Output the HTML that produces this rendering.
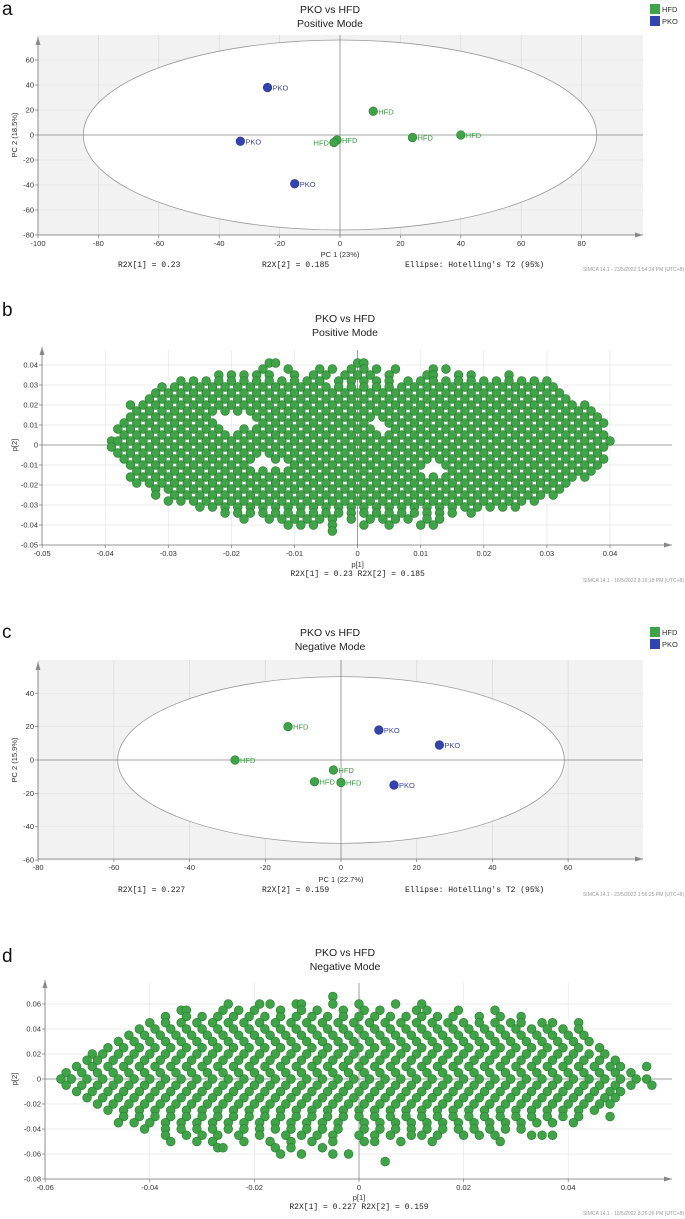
<!DOCTYPE html>
<html><head><meta charset="utf-8"><style>
html,body{margin:0;padding:0;background:#fff;}
svg{display:block;font-family:"Liberation Sans",sans-serif;}
.tk{font-size:7.5px;fill:#333;}
.mono{font-family:"Liberation Mono",monospace;font-size:8px;fill:#222;}
.ttl{font-size:10.5px;fill:#222;text-anchor:middle;}
.panel{font-size:19px;fill:#111;}
.simca{font-size:5px;fill:#999;text-anchor:end;}
</style></head><body>
<svg id="fig" width="685" height="1219" viewBox="0 0 685 1219"></svg>
<script>
// ---- Panel a data (scores, positive mode) ----
const aCats = ["HFD","PKO"];
const aPC1 = [11,24,40,-1,-2,-24,-33,-15];
const aPC2 = [19,-2,0,-4,-6,38,-5,-39];
const aGroup = ["HFD","HFD","HFD","HFD","HFD","PKO","PKO","PKO"];
const aXTicks = [-100,-80,-60,-40,-20,0,20,40,60,80];
const aYTicks = [-80,-60,-40,-20,0,20,40,60];
// ---- Panel c data (scores, negative mode) ----
const cPC1 = [-14,-28,-2,-7,0,10,26,14];
const cPC2 = [20,0,-6,-13,-13.5,18,9,-15];
const cGroup = ["HFD","HFD","HFD","HFD","HFD","PKO","PKO","PKO"];
const cXTicks = [-80,-60,-40,-20,0,20,40,60];
const cYTicks = [-60,-40,-20,0,20,40];
// ---- Panel b loadings (rows: p2 in 0.001 units, list of p1 in 0.001 units) ----
const bXTicks = [-0.05,-0.04,-0.03,-0.02,-0.01,0,0.01,0.02,0.03,0.04];
const bYTicks = [-0.05,-0.04,-0.03,-0.02,-0.01,0,0.01,0.02,0.03,0.04];
const bLoadings = [
[41,[-14,-13,0,1]],
[38,[-15,-11,-6,-4,-1,1,3,6,12,14]],
[35,[-22,-20,-18,-16,-14,-10,-7,-5,-2,0,2,5,11,12,16,18,24]],
[32,[-28,-26,-24,-22,-20,-18,-16,-14,-12,-10,-8,-6,-3,-1,1,3,5,8,10,12,14,16,18,20,22,24,26,28,30]],
[29,[-31,-29,-27,-25,-23,-21,-19,-17,-15,-13,-11,-9,-7,-5,-3,-1,1,3,5,7,9,11,13,15,17,19,21,23,25,27,29,31]],
[26,[-32,-30,-28,-26,-24,-22,-20,-18,-16,-14,-12,-10,-8,-6,-4,-2,0,2,4,6,8,10,12,14,16,18,20,22,24,26,28,30,32]],
[23,[-33,-31,-29,-27,-25,-23,-21,-19,-17,-15,-13,-11,-9,-7,-5,-3,-1,1,3,5,7,9,11,13,15,17,19,21,23,25,27,29,31,33]],
[20,[-36,-34,-32,-30,-28,-26,-24,-22,-20,-18,-16,-14,-12,-10,-8,-6,-4,-2,0,2,4,6,8,10,12,14,16,18,20,22,24,26,28,30,32,34,36]],
[17,[-35,-33,-31,-29,-27,-25,-23,-21,-19,-17,-15,-13,-11,-9,-7,-5,-3,-1,1,3,5,7,9,11,13,15,17,19,21,23,25,27,29,31,33,35,37]],
[14,[-36,-34,-32,-30,-28,-26,-24,-16,-14,-12,-10,-8,-6,-4,-2,0,2,4,6,8,10,12,14,16,18,20,22,24,26,28,30,32,34,36,38]],
[11,[-37,-35,-33,-31,-29,-27,-25,-23,-15,-13,-11,-9,-7,-5,-3,-1,1,5,7,9,11,13,15,17,19,21,23,25,27,29,31,33,35,37,39]],
[8,[-38,-36,-34,-32,-30,-28,-26,-24,-22,-18,-16,-14,-12,-10,-8,-6,-4,-2,0,2,6,8,10,12,14,16,18,20,22,24,26,28,30,32,34,36,38]],
[5,[-37,-35,-33,-31,-29,-27,-25,-23,-21,-19,-17,-15,-13,-11,-9,-7,-5,-3,-1,1,3,5,7,9,11,13,15,17,19,21,23,25,27,29,31,33,35,37,39]],
[2,[-39,-38,-36,-34,-32,-30,-28,-26,-24,-22,-20,-18,-16,-14,-12,-10,-8,-6,-4,-2,0,2,4,6,8,10,12,14,16,18,20,22,24,26,28,30,32,34,36,38,40]],
[-1,[-39,-37,-35,-33,-31,-29,-27,-25,-23,-21,-19,-17,-15,-13,-11,-9,-7,-5,-3,-1,1,3,5,7,9,11,13,15,17,19,21,23,25,27,29,31,33,35,37,39]],
[-4,[-38,-36,-34,-32,-30,-28,-26,-24,-22,-20,-18,-16,-14,-12,-10,-8,-6,-4,-2,0,2,4,6,8,10,12,14,16,18,20,22,24,26,28,30,32,34,36,38]],
[-7,[-37,-35,-33,-31,-29,-27,-25,-23,-21,-19,-17,-13,-11,-9,-7,-5,-3,-1,1,3,5,7,9,11,13,15,17,19,21,23,25,27,29,31,33,35,37,39]],
[-10,[-36,-34,-32,-30,-28,-26,-24,-22,-20,-18,-10,-8,-6,-4,-2,0,2,4,6,8,10,14,16,18,20,22,24,26,28,30,32,34,36,38]],
[-13,[-35,-33,-31,-29,-27,-25,-23,-21,-19,-17,-15,-13,-11,-9,-7,-5,-3,-1,1,3,5,7,9,15,17,19,21,23,25,27,29,31,33,35,37]],
[-16,[-36,-34,-32,-30,-28,-26,-24,-22,-20,-18,-16,-14,-12,-10,-8,-6,-4,-2,0,2,4,6,8,10,12,14,16,18,20,22,24,26,28,30,32,34,36]],
[-19,[-35,-33,-31,-29,-27,-25,-23,-21,-19,-17,-15,-13,-11,-9,-7,-5,-3,-1,1,3,5,7,9,11,13,15,17,19,21,23,25,27,29,31,33]],
[-22,[-32,-30,-28,-26,-24,-22,-20,-18,-16,-14,-12,-10,-8,-6,-4,-2,0,2,4,6,8,10,12,14,16,18,20,22,24,26,28,30,32]],
[-25,[-32,-29,-27,-25,-23,-21,-19,-17,-15,-13,-11,-9,-7,-5,-3,-1,1,3,5,7,9,11,13,15,17,19,21,23,25,27,29,31]],
[-28,[-30,-28,-26,-24,-22,-20,-18,-16,-14,-12,-10,-8,-6,-4,-2,0,2,4,6,8,10,12,14,16,18,20,22,24,26,28]],
[-31,[-25,-23,-21,-19,-17,-15,-13,-11,-9,-7,-5,-3,-1,1,3,5,7,9,11,13,15,17,19,21,23,25]],
[-34,[-21,-19,-17,-15,-13,-11,-9,-7,-5,-3,-1,1,3,5,7,9,11,13,15,18]],
[-37,[-18,-14,-12,-10,-8,-6,-4,-1,2,4,6,8,11,13]],
[-40,[-11,-9,-7,-4,1,5,10,12]],
[-43,[-4]]
];
// ---- Panel d loadings ----
const dXTicks = [-0.06,-0.04,-0.02,0,0.02,0.04];
const dYTicks = [-0.08,-0.06,-0.04,-0.02,0,0.02,0.04,0.06];
const dLoadings = [
[66,[-5]],
[60,[-25,-19,-17,-12,-11,-5,0,7,12]],
[55,[-34,-33,-26,-23,-20,-15,-11,-8,-3,1,4,11,13,19,26]],
[50,[-37,-33,-30,-27,-24,-21,-18,-15,-12,-9,-6,-3,0,3,6,9,12,15,18,23,27,31]],
[45,[-40,-37,-34,-31,-28,-25,-22,-19,-16,-13,-10,-7,-4,-1,2,5,8,11,14,17,20,23,26,29,31,35,37,42]],
[40,[-42,-39,-36,-33,-30,-27,-24,-21,-18,-15,-12,-9,-6,-3,0,3,6,9,12,15,18,21,24,27,30,33,36,39,42]],
[35,[-44,-41,-38,-35,-32,-29,-26,-23,-20,-17,-14,-11,-8,-5,-2,1,4,7,10,13,16,19,22,25,28,31,34,37,40,43]],
[30,[-46,-43,-40,-37,-34,-31,-28,-25,-22,-19,-16,-13,-10,-7,-4,-1,2,5,8,11,14,17,20,23,26,29,32,35,38,41,44]],
[25,[-48,-45,-42,-39,-36,-33,-30,-27,-24,-21,-18,-15,-12,-9,-6,-3,0,3,6,9,12,15,18,21,24,27,30,33,36,39,42,46]],
[20,[-51,-49,-46,-43,-40,-37,-34,-31,-28,-25,-22,-19,-16,-13,-10,-7,-4,-1,2,5,8,11,14,17,20,23,26,29,32,35,38,41,44,47]],
[15,[-52,-50,-47,-44,-41,-38,-35,-32,-29,-26,-23,-20,-17,-14,-11,-8,-5,-2,1,4,7,10,13,16,19,22,25,28,31,34,37,40,43,46,49]],
[10,[-54,-51,-48,-45,-42,-39,-36,-33,-30,-27,-24,-21,-18,-15,-12,-9,-6,-3,0,3,6,9,12,15,18,21,24,27,30,33,36,39,42,45,48,50,55]],
[5,[-56,-53,-50,-47,-44,-41,-38,-35,-32,-29,-26,-23,-20,-17,-14,-11,-8,-5,-2,1,4,7,10,13,16,19,22,25,28,31,34,37,40,43,46,49,52]],
[0,[-57,-55,-52,-49,-46,-43,-40,-37,-34,-31,-28,-25,-22,-19,-16,-13,-10,-7,-4,-1,2,5,8,11,14,17,20,23,26,29,32,35,38,41,44,47,50,53,55]],
[-5,[-56,-53,-50,-47,-44,-41,-38,-35,-32,-29,-26,-23,-20,-17,-14,-11,-8,-5,-2,1,4,7,10,13,16,19,22,25,28,31,34,37,40,43,46,49,52,56]],
[-10,[-54,-51,-48,-45,-42,-39,-36,-33,-30,-27,-24,-21,-18,-15,-12,-9,-6,-3,0,3,6,9,12,15,18,21,24,27,30,33,36,39,42,45,48,50]],
[-15,[-52,-49,-46,-43,-40,-37,-34,-31,-28,-25,-22,-19,-16,-13,-10,-7,-4,-1,2,5,8,11,14,17,20,23,26,29,32,35,38,41,44,47,49]],
[-20,[-50,-47,-44,-41,-38,-35,-32,-29,-26,-23,-20,-17,-14,-11,-8,-5,-2,1,4,7,10,13,16,19,22,25,28,31,34,37,40,43,46,48]],
[-25,[-48,-45,-42,-39,-36,-33,-30,-27,-24,-21,-18,-15,-12,-9,-6,-3,0,3,6,9,12,15,18,21,24,27,30,33,36,39,42,45]],
[-30,[-45,-42,-39,-36,-33,-30,-27,-24,-21,-18,-15,-12,-9,-6,-3,0,3,6,9,12,15,18,21,24,27,30,33,36,39,42,48]],
[-35,[-46,-43,-40,-37,-34,-31,-28,-25,-22,-19,-16,-13,-10,-7,-4,1,4,7,10,13,16,19,22,25,28,31,34,37,41]],
[-40,[-41,-37,-34,-31,-28,-25,-22,-19,-16,-13,-10,-7,-4,1,4,7,10,13,16,19,22,25,28,31]],
[-45,[-37,-33,-30,-27,-23,-19,-14,-11,-8,-5,0,3,6,10,12,15,20,23,26,33,35,37]],
[-50,[-36,-31,-28,-22,-17,-13,-9,-5,1,3,8,14,27]],
[-55,[-27,-26,-16,-13,-7]],
[-60,[-15,-11,-5,-2]],
[-66,[5]]
];

const NS="http://www.w3.org/2000/svg";
const svg=document.getElementById('fig');
function el(tag,attrs,parent,txt){const e=document.createElementNS(NS,tag);for(const k in attrs)e.setAttribute(k,attrs[k]);if(txt!==undefined)e.textContent=txt;(parent||svg).appendChild(e);return e;}
const GREEN="#3fa447",GREENS="#2b7a31",BLUE="#3343b0",BLUES="#27308a";

function fmt(v){if(v===0)return "0";let s=(Math.round(v*1000)/1000).toString();return s;}

function panel(o){
  const g=el('g',{});
  
  
  const X=v=>o.x0+v*o.kx, Y=v=>o.y0-v*o.ky;
  // letter + titles
  const L=el('text',{x:2,y:o.letterY,class:'panel'},g,o.letter);
  
  
  const t1=el('text',{x:o.titleX,y:o.titleY,class:'ttl'},g,'PKO vs HFD');
  
  
  const t2=el('text',{x:o.titleX,y:o.titleY+14,class:'ttl'},g,o.mode);
  
  
  // background
  if(o.ellipse){
    const bg=el('rect',{x:o.left,y:o.top,width:o.right-o.left,height:o.bottom-o.top,fill:'#f2f2f2'},g);
    
    
  }
  // grid
  o.xt.forEach(v=>{const l=el('line',{x1:X(v),x2:X(v),y1:o.top,y2:o.bottom,stroke:o.ellipse?'#d8d8d8':'#e6e6e6','stroke-width':0.7},g);});
  o.yt.forEach(v=>{const l=el('line',{x1:o.left,x2:o.right,y1:Y(v),y2:Y(v),stroke:o.ellipse?'#e4e4e4':'#e6e6e6','stroke-width':0.7},g);});
  if(o.ellipse){
    const e=el('ellipse',{cx:X(0),cy:Y(0),rx:o.ellipse[0]*o.kx,ry:o.ellipse[1]*o.ky,fill:'#fff',stroke:'#999','stroke-width':0.8},g);
    
    
  }
  // zero lines
  const zx=el('line',{x1:o.left,x2:o.right,y1:Y(0),y2:Y(0),stroke:'#888','stroke-width':0.8},g);
  
  
  const zy=el('line',{x1:X(0),x2:X(0),y1:o.top,y2:o.bottom,stroke:'#888','stroke-width':0.8},g);
  
  
  // axes
  const ax=el('line',{x1:o.left,x2:o.arrowX,y1:o.bottom,y2:o.bottom,stroke:'#777','stroke-width':0.8},g);
  
  
  const ay=el('line',{x1:o.left,x2:o.left,y1:o.bottom,y2:o.arrowY,stroke:'#777','stroke-width':0.8},g);
  
  
  const ha=el('path',{d:`M${o.arrowX},${o.bottom} l-8,-2.5 l0,5z`,fill:'#888'},g);
  
  
  const va=el('path',{d:`M${o.left},${o.arrowY} l-2.5,8 l5,0z`,fill:'#888'},g);
  
  
  o.xt.forEach(v=>{
    el('line',{x1:X(v),x2:X(v),y1:o.bottom,y2:o.bottom+3,stroke:'#777','stroke-width':0.7},g);
    const t=el('text',{x:X(v),y:o.bottom+11,class:'tk','text-anchor':'middle'},g,fmt(v));
    
    
  });
  o.yt.forEach(v=>{
    el('line',{x1:o.left-3,x2:o.left,y1:Y(v),y2:Y(v),stroke:'#777','stroke-width':0.7},g);
    const t=el('text',{x:o.left-4,y:Y(v)+2.5,class:'tk','text-anchor':'end'},g,fmt(v));
    
    
  });
  const yl=el('text',{x:0,y:0,class:'tk','text-anchor':'middle',transform:`translate(${o.ylabX},${Y(0)}) rotate(-90)`},g,o.ylab);
  
  
  const xl=el('text',{x:X(0),y:o.xlabY,class:'tk','text-anchor':'middle'},g,o.xlab);
  
  
  return {g,X,Y};
}

function scoresPanel(o,pc1,pc2,grp,labLeft){
  const {g,X,Y}=panel(o);
  for(let i=0;i<pc1.length;i++){
    const hf=grp[i]==="HFD";
    const c=el('circle',{cx:X(pc1[i]),cy:Y(pc2[i]),r:4.3,fill:hf?GREEN:BLUE,stroke:hf?GREENS:BLUES,'stroke-width':0.6},g);
    
    
    const left=labLeft.includes(i);
    const t=el('text',{x:X(pc1[i])+(left?-5:5),y:Y(pc2[i])+3,'font-size':7.5,fill:hf?'#3a9a44':'#3a45a8','text-anchor':left?'end':'start'},g,grp[i]);
    
    
  }
  // R2X row
  const r1=el('text',{x:118,y:o.r2Y,class:'mono'},g,o.r2[0]);
  
  
  const r2=el('text',{x:262,y:o.r2Y,class:'mono'},g,o.r2[1]);
  
  
  const r3=el('text',{x:405,y:o.r2Y,class:'mono'},g,"Ellipse: Hotelling's T2 (95%)");
  
  
  const s=el('text',{x:684,y:o.r2Y+4,class:'simca'},g,o.simca);
  
  
  // legend
  aCats.forEach((c,i)=>{
    const r=el('rect',{x:650,y:o.legY+i*12,width:10,height:10,fill:c==="HFD"?GREEN:BLUE},g);
    
    
    const t=el('text',{x:662,y:o.legY+i*12+8,'font-size':7.5,fill:'#333'},g,c);
    
    
  });
}

function loadPanel(o,rows){
  const {g,X,Y}=panel(o);
  rows.forEach(([yy,xs])=>xs.forEach(xx=>{
    const c=el('circle',{cx:X(xx/1000),cy:Y(yy/1000),r:4.4,fill:GREEN,stroke:GREENS,'stroke-width':0.6},g);
    
    
  }));
  const r=el('text',{x:X(0),y:o.r2Y,class:'mono','text-anchor':'middle'},g,o.r2);
  
  
  const s=el('text',{x:684,y:o.r2Y+6,class:'simca'},g,o.simca);
  
  
}

scoresPanel({name:'panel-a-scores',letter:'a',letterY:15,titleX:330,titleY:13,mode:'Positive Mode',
  x0:340,kx:3.02,y0:135,ky:1.25,left:38,right:643,top:35,bottom:235,arrowX:643,arrowY:37,
  xt:aXTicks,yt:aYTicks,ylab:'PC 2 (18.5%)',ylabX:17,xlab:'PC 1 (23%)',xlabY:257,ellipse:[85,76],
  r2Y:267,r2:['R2X[1] = 0.23','R2X[2] = 0.185'],simca:'SIMCA 14.1 - 23/5/2022 1:54:24 PM (UTC+8)',legY:4},
  aPC1,aPC2,aGroup,[4]);

loadPanel({name:'panel-b-loadings',letter:'b',letterY:316,titleX:345,titleY:322,mode:'Positive Mode',
  x0:357.6,kx:6310,y0:445,ky:2000,left:42,right:672,top:350,bottom:545,arrowX:672,arrowY:347,
  xt:bXTicks,yt:bYTicks,ylab:'p[2]',ylabX:17,xlab:'p[1]',xlabY:567,
  r2Y:576,r2:'R2X[1] = 0.23  R2X[2] = 0.185',simca:'SIMCA 14.1 - 16/5/2022 8:16:18 PM (UTC+8)'},bLoadings);

scoresPanel({name:'panel-c-scores',letter:'c',letterY:638,titleX:330,titleY:636,mode:'Negative Mode',
  x0:341,kx:3.785,y0:760,ky:1.667,left:38,right:643,top:660,bottom:859,arrowX:643,arrowY:662,
  xt:cXTicks,yt:cYTicks,ylab:'PC 2 (15.9%)',ylabX:17,xlab:'PC 1 (22.7%)',xlabY:882,ellipse:[59,50],
  r2Y:892,r2:['R2X[1] = 0.227','R2X[2] = 0.159'],simca:'SIMCA 14.1 - 23/5/2022 1:56:25 PM (UTC+8)',legY:627},
  cPC1,cPC2,cGroup,[]);

loadPanel({name:'panel-d-loadings',letter:'d',letterY:962,titleX:345,titleY:956,mode:'Negative Mode',
  x0:359,kx:5230,y0:1079,ky:1250,left:45,right:672,top:983,bottom:1179,arrowX:672,arrowY:980,
  xt:dXTicks,yt:dYTicks,ylab:'p[2]',ylabX:17,xlab:'p[1]',xlabY:1200,
  r2Y:1209,r2:'R2X[1] = 0.227 R2X[2] = 0.159',simca:'SIMCA 14.1 - 16/5/2022 8:26:26 PM (UTC+8)'},dLoadings);
</script>
</body></html>
